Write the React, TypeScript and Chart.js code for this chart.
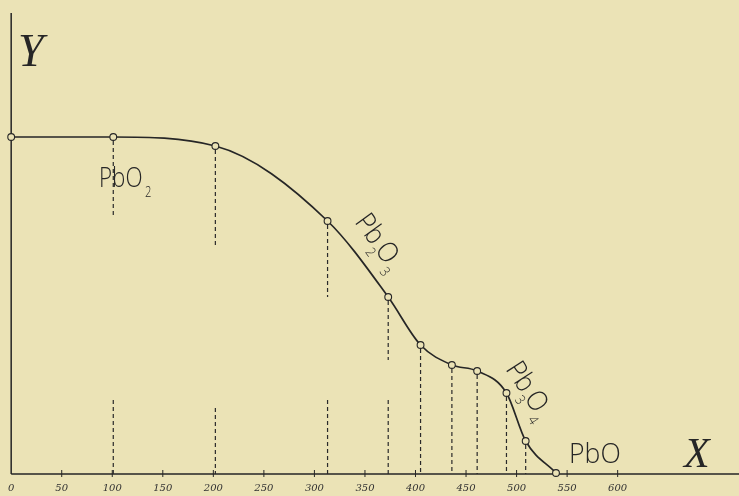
import React, { useEffect, useRef } from "react";
import { Chart, registerables } from "chart.js";

Chart.register(...registerables);

// Temperature (x) and remaining weight (y, arbitrary units)
const xValues = [0, 101, 202, 313, 373, 405, 436, 461, 490, 509, 539];
const yValues = [337, 337, 328, 253, 177, 129, 109, 103, 81, 33, 1];
// dashed drop lines: whether drawn, and where the gap (if any) lies
const hasDrop = [false, true, true, true, true, true, true, true, true, true, false];
const dropGapTop = [null, 259, 227, 177, 114, null, null, null, null, null, null];
const dropGapBottom = [null, 74, 66, 74, 74, null, null, null, null, null, null];
const xTickValues = [0, 50, 100, 150, 200, 250, 300, 350, 400, 450, 500, 550, 600];
const X_MAX = 715;
const Y_MAX = 461;

const BG = "#ebe3b6";
const INK = "#262626";

type Part = { t: string; sub: boolean };
const labelPbO2: Part[] = [{ t: "PbO", sub: false }, { t: "2", sub: true }];
const labelPb2O3: Part[] = [
  { t: "Pb", sub: false },
  { t: "2", sub: true },
  { t: "O", sub: false },
  { t: "3", sub: true },
];
const labelPb3O4: Part[] = [
  { t: "Pb", sub: false },
  { t: "3", sub: true },
  { t: "O", sub: false },
  { t: "4", sub: true },
];
const labelPbO: Part[] = [{ t: "PbO", sub: false }];

const LABEL_FONT = '"Open Sans", "Liberation Sans", sans-serif';

function drawChem(
  ctx: CanvasRenderingContext2D,
  parts: Part[],
  x: number,
  y: number,
  angleDeg: number,
  size: number,
  subSize: number,
  subDrop: number,
  subGap: number,
  xScale: number
) {
  ctx.save();
  ctx.translate(x, y);
  ctx.rotate((angleDeg * Math.PI) / 180);
  ctx.scale(xScale, 1);
  ctx.fillStyle = INK;
  ctx.textBaseline = "alphabetic";
  ctx.textAlign = "left";
  let cx = 0;
  for (const p of parts) {
    ctx.font = `300 ${p.sub ? subSize : size}px ${LABEL_FONT}`;
    const w = ctx.measureText(p.t).width;
    if (p.sub) {
      ctx.fillText(p.t, cx + subGap, subDrop);
      cx += subGap + w * 0.55;
    } else {
      ctx.fillText(p.t, cx, 0);
      cx += w;
    }
  }
  ctx.restore();
}

const overlay = {
  id: "overlay",
  beforeDraw(chart: any) {
    const ctx = chart.ctx;
    ctx.save();
    ctx.fillStyle = BG;
    ctx.fillRect(0, 0, chart.width, chart.height);
    ctx.restore();
  },
  beforeDatasetsDraw(chart: any) {
    const { ctx, chartArea, scales } = chart;
    const xs = scales.x;
    const ys = scales.y;
    ctx.save();
    // axes
    ctx.strokeStyle = INK;
    ctx.lineWidth = 1.5;
    ctx.beginPath();
    ctx.moveTo(chartArea.left, chartArea.top);
    ctx.lineTo(chartArea.left, chartArea.bottom);
    ctx.moveTo(chartArea.left, chartArea.bottom);
    ctx.lineTo(chart.width, chartArea.bottom);
    ctx.stroke();
    // tick marks
    ctx.lineWidth = 1;
    ctx.beginPath();
    for (const v of xTickValues) {
      if (v === 0) continue;
      const px = xs.getPixelForValue(v);
      ctx.moveTo(px, chartArea.bottom - 4);
      ctx.lineTo(px, chartArea.bottom + 3);
    }
    ctx.stroke();
    // dashed drop lines
    ctx.setLineDash([4, 3]);
    ctx.lineWidth = 1.2;
    ctx.strokeStyle = "#2a2a2a";
    xValues.forEach((xv, i) => {
      if (!hasDrop[i]) return;
      const px = xs.getPixelForValue(xv);
      const top = ys.getPixelForValue(yValues[i]);
      const bottom = ys.getPixelForValue(0);
      ctx.beginPath();
      if (dropGapTop[i] != null) {
        ctx.moveTo(px, top + 4);
        ctx.lineTo(px, ys.getPixelForValue(dropGapTop[i] as number));
        ctx.moveTo(px, ys.getPixelForValue(dropGapBottom[i] as number));
        ctx.lineTo(px, bottom);
      } else {
        ctx.moveTo(px, top + 4);
        ctx.lineTo(px, bottom);
      }
      ctx.stroke();
    });
    ctx.restore();
  },
  afterDraw(chart: any) {
    const ctx = chart.ctx;
    ctx.save();
    ctx.fillStyle = INK;
    ctx.font = 'italic 46px "Liberation Serif", serif';
    ctx.fillText("Y", 18, 66);
    ctx.font = 'italic 42px "Liberation Serif", serif';
    ctx.fillText("X", 684, 467);
    ctx.restore();
    drawChem(ctx, labelPbO2, 99, 187, 0, 28, 14, 10, 3, 0.8);
    drawChem(ctx, labelPb2O3, 354, 222, 54, 28, 14, 9, 1, 0.9);
    drawChem(ctx, labelPb3O4, 505, 369, 57, 28, 14, 9, 1, 0.9);
    drawChem(ctx, labelPbO, 569, 463, 0, 28, 14, 9, 0, 0.95);
  },
};

export default function App() {
  const ref = useRef<HTMLCanvasElement | null>(null);
  useEffect(() => {
    if (!ref.current) return;
    const chart = new Chart(ref.current, {
      type: "line",
      data: {
        datasets: [
          {
            data: xValues.map((x, i) => ({ x, y: yValues[i] })),
            borderColor: INK,
            borderWidth: 1.7,
            cubicInterpolationMode: "monotone",
            pointRadius: 3.4,
            pointBorderWidth: 1.1,
            pointBackgroundColor: BG,
            pointBorderColor: INK,
            clip: false,
            fill: false,
          } as any,
        ],
      },
      options: {
        responsive: false,
        animation: false,
        events: [],
        layout: { padding: { left: 10, right: 0, top: 13, bottom: 0 } },
        plugins: { legend: { display: false }, tooltip: { enabled: false } },
        scales: {
          x: {
            type: "linear",
            min: 0,
            max: X_MAX,
            grid: { display: false, drawTicks: false },
            border: { display: false },
            afterBuildTicks: (scale: any) => {
              scale.ticks = xTickValues.map((v) => ({ value: v }));
            },
            afterFit: (scale: any) => {
              scale.height = 22;
            },
            ticks: {
              autoSkip: false,
              maxRotation: 0,
              padding: 8,
              color: "#333",
              font: { size: 10, family: '"DejaVu Serif", serif', style: "italic" },
              callback: (v: any) => String(v),
            },
          },
          y: { display: false, min: 0, max: Y_MAX },
        },
      },
      plugins: [overlay],
    });
    return () => chart.destroy();
  }, []);
  return (
    <div style={{ position: "fixed", left: 0, top: 0, width: 739, height: 496 }}>
      <canvas ref={ref} width={739} height={496} />
    </div>
  );
}
